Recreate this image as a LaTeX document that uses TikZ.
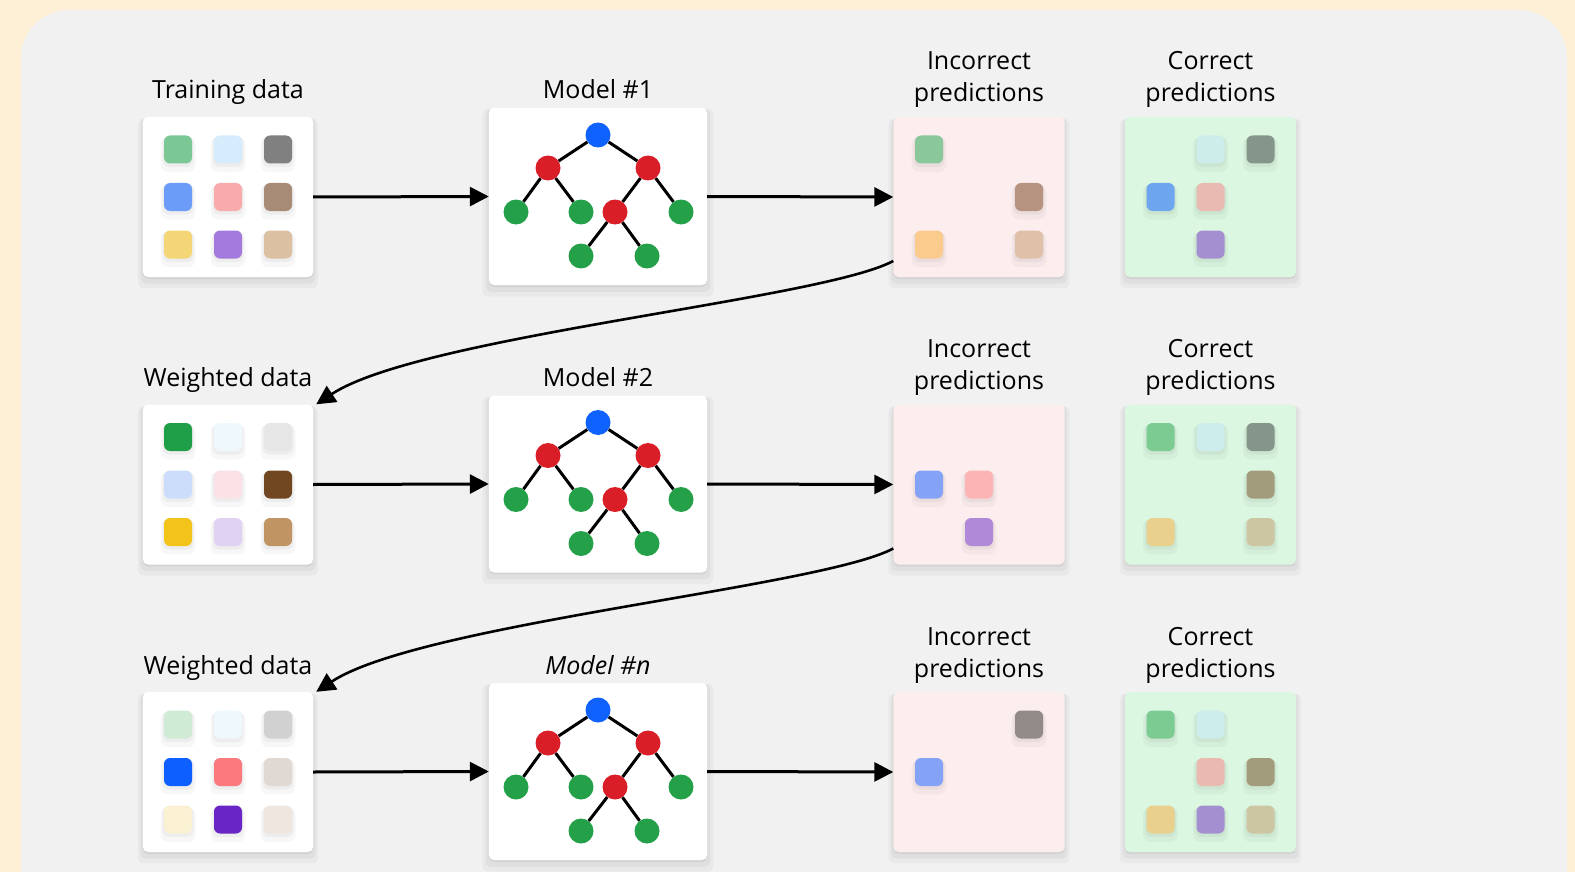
\documentclass[tikz,border=0pt]{standalone}
\usepackage{fontspec}
\setmainfont{Open Sans}
\usetikzlibrary{arrows.meta,shadows,calc}
\definecolor{cream}{HTML}{FEF0D6}
\definecolor{panel}{HTML}{F1F1F1}
\definecolor{incfill}{HTML}{FCEEEE}
\definecolor{corfill}{HTML}{DBF7E1}
\definecolor{tblue}{HTML}{0F62FE}
\definecolor{tred}{HTML}{DA1E28}
\definecolor{tgreen}{HTML}{24A148}
\tikzset{
  softshadow/.style={
    general shadow={shadow yshift=-6pt, shadow scale=1.06, fill=black, opacity=0.03},
    general shadow={shadow yshift=-4pt, shadow scale=1.03, fill=black, opacity=0.04},
    general shadow={shadow yshift=-2pt, fill=black, opacity=0.05}},
  sqshadow/.style={
    general shadow={shadow yshift=-4pt, shadow scale=1.25, fill=black, opacity=0.03},
    general shadow={shadow yshift=-2pt, shadow scale=1.1, fill=black, opacity=0.04}},
  databox/.style={rounded corners=5pt, minimum width=170pt, minimum height=160pt, inner sep=0, fill=white, softshadow},
  modelbox/.style={rounded corners=5pt, minimum width=218pt, minimum height=177pt, inner sep=0, fill=white, softshadow},
  incbox/.style={rounded corners=5pt, minimum width=171pt, minimum height=160pt, inner sep=0, fill=incfill, softshadow},
  corbox/.style={rounded corners=5pt, minimum width=171pt, minimum height=160pt, inner sep=0, fill=corfill, softshadow},
  sqr/.style={minimum size=28pt, inner sep=0, rounded corners=6pt, draw=none, sqshadow},
  tn/.style={circle, minimum size=25pt, inner sep=0, draw=none},
  tedge/.style={line width=3pt, black},
  lbl/.style={anchor=base, inner sep=0, font=\fontsize{25}{30}\selectfont, text=black},
  arr/.style={line width=3pt, -{Triangle[length=19pt,width=19pt]}},
  carr/.style={line width=2.6pt, -{Triangle[length=19pt,width=19pt]}}
}
\newcommand\cel[5]{\definecolor{tmp#1}{HTML}{#5}\node[sqr,fill=tmp#1] (#1) at ($(#2.center)+({(#3-2)*50},{(#4-2)*47.5})$) {};}
\newcommand\mytree[2]{%
  \node[tn,fill=tblue] (#1r) at ($(#2.center)+(0,-61.5)$) {};
  \node[tn,fill=tred] (#1a) at ($(#2.center)+(-50,-28.5)$) {};
  \node[tn,fill=tred] (#1b) at ($(#2.center)+(50,-28.5)$) {};
  \node[tn,fill=tgreen] (#1c) at ($(#2.center)+(-82,15.5)$) {};
  \node[tn,fill=tgreen] (#1d) at ($(#2.center)+(-17,15.5)$) {};
  \node[tn,fill=tred] (#1e) at ($(#2.center)+(17,15.5)$) {};
  \node[tn,fill=tgreen] (#1f) at ($(#2.center)+(83,15.5)$) {};
  \node[tn,fill=tgreen] (#1g) at ($(#2.center)+(-17,59.5)$) {};
  \node[tn,fill=tgreen] (#1h) at ($(#2.center)+(49,59.5)$) {};
  \draw[tedge] (#1r) -- (#1a);
  \draw[tedge] (#1r) -- (#1b);
  \draw[tedge] (#1a) -- (#1c);
  \draw[tedge] (#1a) -- (#1d);
  \draw[tedge] (#1b) -- (#1e);
  \draw[tedge] (#1b) -- (#1f);
  \draw[tedge] (#1e) -- (#1g);
  \draw[tedge] (#1e) -- (#1h);
}
\begin{document}
\begin{tikzpicture}[x=1pt,y=-1pt]
\useasboundingbox (0,0) rectangle (1575,872);
\fill[cream] (0,0) rectangle (1575,872);
\begin{scope}
  \clip (0,0) rectangle (1575,872);
  \fill[panel, rounded corners=48pt] (21,10) rectangle (1567,920);
\end{scope}

% ---------- row 1 ----------
\node[databox] (d1) at (228,197) {};
\node[modelbox] (m1) at (598,196.5) {};
\node[incbox] (i1) at (979,197) {};
\node[corbox] (k1) at (1210.5,197) {};
\node[lbl] (l1a) at (228,99) {Training data};
\node[lbl] (l1b) at (598,99) {Model \#1};
\node[lbl] (l1c) at (979,70) {Incorrect};
\node[lbl] (l1d) at (979,102) {predictions};
\node[lbl] (l1e) at (1210.5,70) {Correct};
\node[lbl] (l1f) at (1210.5,102) {predictions};
\cel{a11}{d1}{1}{1}{7BC896}\cel{a12}{d1}{2}{1}{D4ECFB}\cel{a13}{d1}{3}{1}{808080}
\cel{a21}{d1}{1}{2}{6A9CF8}\cel{a22}{d1}{2}{2}{F9ABAB}\cel{a23}{d1}{3}{2}{A88B77}
\cel{a31}{d1}{1}{3}{F4D676}\cel{a32}{d1}{2}{3}{A37ADB}\cel{a33}{d1}{3}{3}{DCC0A2}
\cel{b1}{i1}{1}{1}{8AC79A}\cel{b2}{i1}{3}{2}{B59380}\cel{b3}{i1}{1}{3}{FBCB8E}\cel{b4}{i1}{3}{3}{DFC0A8}
\cel{c1}{k1}{2}{1}{CDEDEB}\cel{c2}{k1}{3}{1}{84968A}\cel{c3}{k1}{1}{2}{6DA6EE}\cel{c4}{k1}{2}{2}{E9BAB1}\cel{c5}{k1}{2}{3}{A48FD0}
\mytree{ta}{m1}
\draw[arr] (d1.east) -- (m1.west);
\draw[arr] (m1.east) -- (i1.west);

% ---------- row 2 ----------
\node[databox] (d2) at (228,484.5) {};
\node[modelbox] (m2) at (598,484) {};
\node[incbox] (i2) at (979,484.5) {};
\node[corbox] (k2) at (1210.5,484.5) {};
\node[lbl] (l2a) at (228,386.5) {Weighted data};
\node[lbl] (l2b) at (598,386.5) {Model \#2};
\node[lbl] (l2c) at (979,357.5) {Incorrect};
\node[lbl] (l2d) at (979,389.5) {predictions};
\node[lbl] (l2e) at (1210.5,357.5) {Correct};
\node[lbl] (l2f) at (1210.5,389.5) {predictions};
\cel{e11}{d2}{1}{1}{1E9E47}\cel{e12}{d2}{2}{1}{EEF8FD}\cel{e13}{d2}{3}{1}{E6E6E6}
\cel{e21}{d2}{1}{2}{CCDDFB}\cel{e22}{d2}{2}{2}{FBE2E6}\cel{e23}{d2}{3}{2}{704721}
\cel{e31}{d2}{1}{3}{F2C318}\cel{e32}{d2}{2}{3}{E0D2F2}\cel{e33}{d2}{3}{3}{C19563}
\cel{f1}{i2}{1}{2}{85A3F6}\cel{f2}{i2}{2}{2}{FDB4B4}\cel{f3}{i2}{2}{3}{B08AD8}
\cel{g1}{k2}{1}{1}{7BCB92}\cel{g2}{k2}{2}{1}{CCEDEB}\cel{g3}{k2}{3}{1}{84968A}\cel{g4}{k2}{3}{2}{A39C7C}\cel{g5}{k2}{1}{3}{E9D08C}\cel{g6}{k2}{3}{3}{CCC6A3}
\mytree{tb}{m2}
\draw[arr] (d2.east) -- (m2.west);
\draw[arr] (m2.east) -- (i2.west);

% ---------- row 3 ----------
\node[databox] (d3) at (228,772) {};
\node[modelbox] (m3) at (598,771.5) {};
\node[incbox] (i3) at (979,772) {};
\node[corbox] (k3) at (1210.5,772) {};
\node[lbl] (l3a) at (228,674) {Weighted data};
\node[lbl] (l3b) at (598,674) {\itshape Model \#n};
\node[lbl] (l3c) at (979,645) {Incorrect};
\node[lbl] (l3d) at (979,677) {predictions};
\node[lbl] (l3e) at (1210.5,645) {Correct};
\node[lbl] (l3f) at (1210.5,677) {predictions};
\cel{h11}{d3}{1}{1}{CFEBD5}\cel{h12}{d3}{2}{1}{EEF8FD}\cel{h13}{d3}{3}{1}{D1D1D1}
\cel{h21}{d3}{1}{2}{0D5FFF}\cel{h22}{d3}{2}{2}{FC7A7E}\cel{h23}{d3}{3}{2}{E0D8D2}
\cel{h31}{d3}{1}{3}{FAF0D2}\cel{h32}{d3}{2}{3}{6925C5}\cel{h33}{d3}{3}{3}{F0E6E0}
\cel{j1}{i3}{3}{1}{918A89}\cel{j2}{i3}{1}{2}{85A3F6}
\cel{k31}{k3}{1}{1}{7BCB92}\cel{k32}{k3}{2}{1}{CCEDEB}\cel{k33}{k3}{2}{2}{EABAB1}\cel{k34}{k3}{3}{2}{A39C7C}\cel{k35}{k3}{1}{3}{E9D08C}\cel{k36}{k3}{2}{3}{A48FD0}\cel{k37}{k3}{3}{3}{CCC6A3}
\mytree{tc}{m3}
\draw[arr] (d3.east) -- (m3.west);
\draw[arr] (m3.east) -- (i3.west);

% ---------- feedback curves ----------
\coordinate (s1) at ($(i1.west)+(0,64)$);
\coordinate (s2) at ($(i2.west)+(0,64)$);
\draw[carr] (s1) .. controls (820,300) and (420,336) .. ($(d2.north east)+(3,0)$);
\draw[carr] (s2) .. controls (820,587.5) and (420,623.5) .. ($(d3.north east)+(3,0)$);
\end{tikzpicture}
\end{document}
